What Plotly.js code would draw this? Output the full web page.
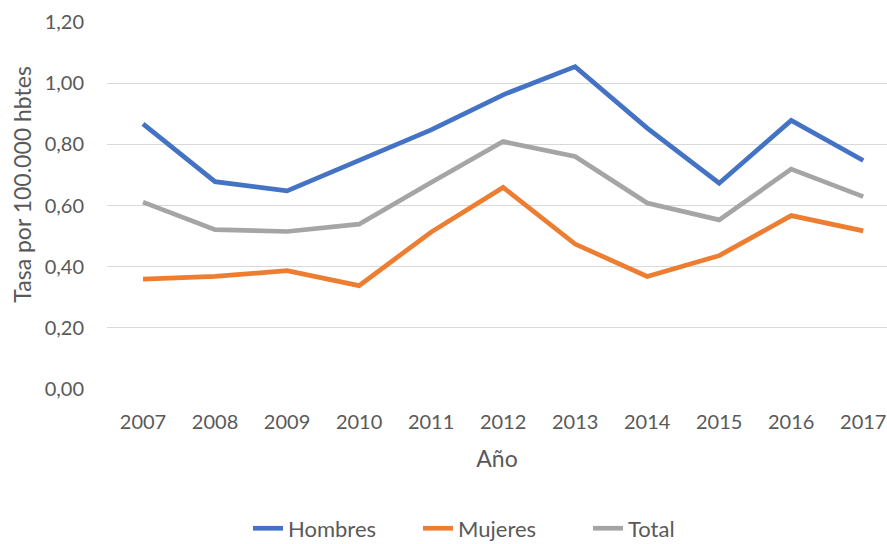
<!DOCTYPE html>
<html>
<head>
<meta charset="utf-8">
<script src="https://cdn.plot.ly/plotly-3.0.1.min.js"></script>
<style>html,body{margin:0;padding:0;background:#fff;}#chart{width:887px;height:544px;}</style>
</head>
<body>
<div id="chart"></div>
<script>
const years = ["2007","2008","2009","2010","2011","2012","2013","2014","2015","2016","2017"];
const hombres = [0.867,0.678,0.648,0.749,0.847,0.962,1.054,0.853,0.673,0.878,0.747];
const mujeres = [0.359,0.368,0.387,0.338,0.513,0.659,0.474,0.368,0.436,0.567,0.517];
const total   = [0.611,0.521,0.515,0.539,0.675,0.809,0.760,0.608,0.553,0.719,0.629];
const yTicks = [0,0.2,0.4,0.6,0.8,1.0,1.2];

const fam = "Lato, 'Open Sans', sans-serif";
const tickFont = {family: fam, size: 20, color: "#595959"};
const textFont = {family: fam, size: 23, color: "#595959"};
const legFont = {family: fam, size: 22, color: "#595959"};
const mk = (name, y, color) => ({
  type: "scatter", mode: "lines", name: name, x: years, y: y,
  line: {color: color, width: 4.7}
});
const data = [
  mk("Hombres", hombres, "#4472C4"),
  mk("Mujeres", mujeres, "#ED7D31"),
  mk("Total", total, "#A5A5A5")
];
const layout = {
  width: 887, height: 544,
  margin: {l: 107, r: 0, t: 22, b: 155, autoexpand: false},
  paper_bgcolor: "#fff", plot_bgcolor: "#fff",
  separators: ",.",
  font: tickFont,
  showlegend: true,
  legend: {orientation: "h", x: (248-107)/780, xanchor: "left", y: -0.38, yanchor: "middle",
           font: legFont, itemwidth: 30, entrywidth: 125, entrywidthmode: "pixels",
           traceorder: "normal"},
  xaxis: {type: "category", range: [-0.5, 10.33], showgrid: false, zeroline: false,
          showline: false, ticks: "", tickfont: tickFont, ticklabelstandoff: 19,
          automargin: false,
          title: {text: "Año", font: textFont, standoff: 18}},
  yaxis: {range: [0, 1.2], tickvals: yTicks, tickformat: ".2f", showgrid: true,
          gridcolor: "#D9D9D9", gridwidth: 1.3, zeroline: false, showline: false,
          ticks: "", tickfont: tickFont, ticklabelstandoff: 22, automargin: false},
  annotations: [{text: "Tasa por 100.000 hbtes", textangle: -90, xref: "paper", yref: "paper",
                 x: -85/780, y: (389.3-185)/367, xanchor: "center", yanchor: "middle",
                 showarrow: false, font: textFont}]
};
Plotly.newPlot("chart", data, layout, {displayModeBar: false, staticPlot: true});
</script>
</body>
</html>
